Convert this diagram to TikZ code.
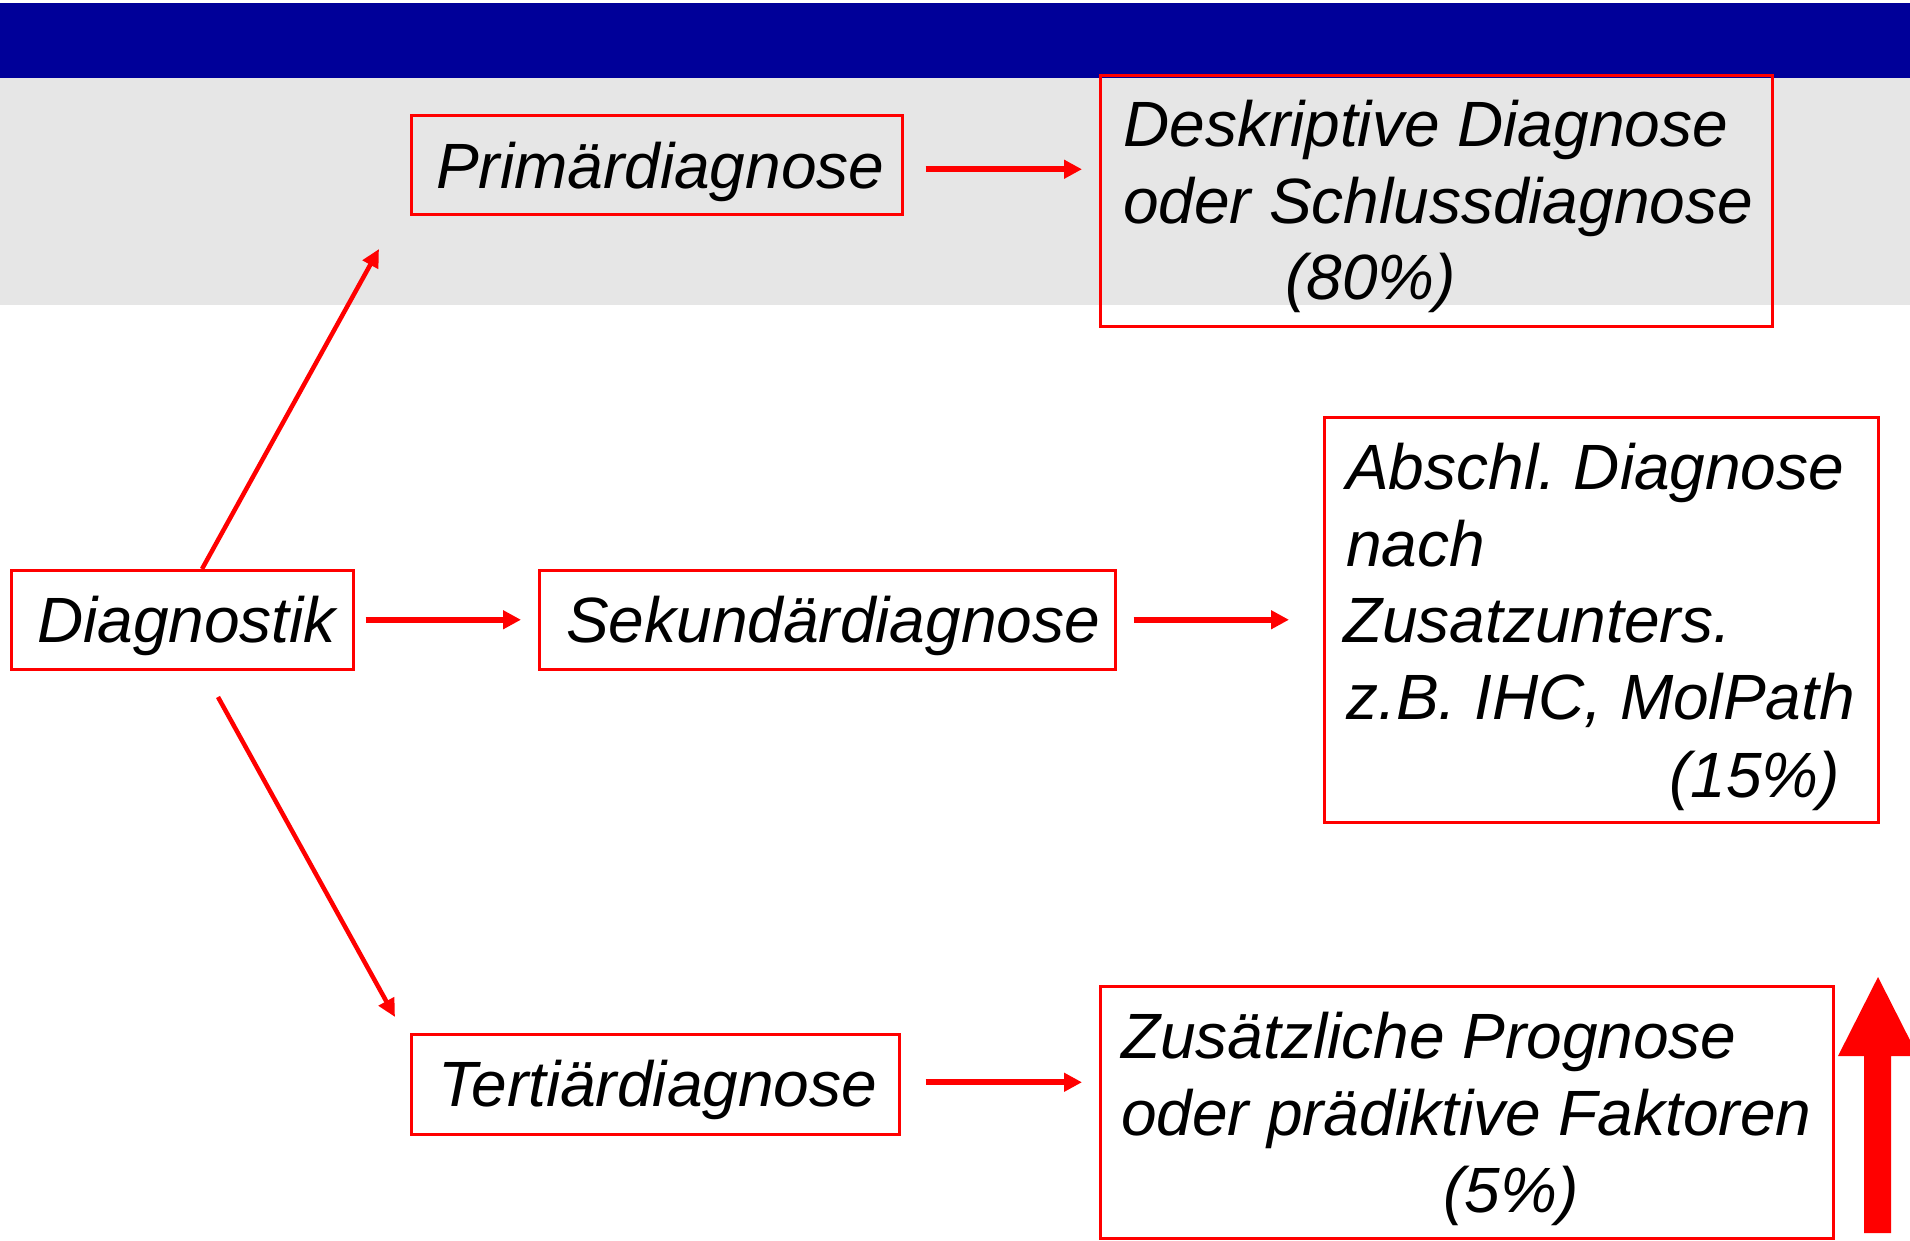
\documentclass[tikz,border=0pt]{standalone}
\usepackage{fontspec}
\setmainfont{Liberation Sans}
\usetikzlibrary{arrows.meta,calc}
\definecolor{barblue}{RGB}{0,0,153}
\definecolor{bggray}{RGB}{230,230,230}
\frenchspacing
\begin{document}
\begin{tikzpicture}[x=1pt,y=-1pt,
  box/.style={draw=red, line width=2.5pt, inner sep=0pt, anchor=north west},
  txt/.style={anchor=base west, inner sep=0pt, font=\fontsize{64}{77}\selectfont\itshape},
  harrow/.style={red, line width=6pt, -{Triangle[length=18pt,width=18pt]}},
  darrow/.style={red, line width=4.5pt, -{Triangle[length=18pt,width=17pt]}}]
\useasboundingbox (0,0) rectangle (1910,1240);
\fill[white] (0,0) rectangle (1910,1240);
\fill[barblue] (0,3) rectangle (1910,78);
\fill[bggray] (0,78) rectangle (1910,305);

% boxes
\node[box, minimum width=491pt, minimum height=99pt] (prim) at (410,114) {};
\node[box, minimum width=672pt, minimum height=251pt] (desk) at (1099,74) {};
\node[box, minimum width=342pt, minimum height=99pt] (diag) at (10,569) {};
\node[box, minimum width=576pt, minimum height=99pt] (sek) at (538,569) {};
\node[box, minimum width=554pt, minimum height=405pt] (absch) at (1323,416) {};
\node[box, minimum width=488pt, minimum height=100pt] (tert) at (410,1033) {};
\node[box, minimum width=733pt, minimum height=252pt] (zus) at (1099,985) {};

% texts
\node[txt] (primT) at (436,188) {Primärdiagnose};
\node[txt] (deskA) at (1123,146) {Deskriptive Diagnose};
\node[txt] (deskB) at (1123,223) {oder Schlussdiagnose};
\node[txt] (deskC) at (1285,299) {(80\%)};
\node[txt] (diagT) at (37,642) {Diagnostik};
\node[txt] (sekT) at (566,642) {Sekundärdiagnose};
\node[txt] (abA) at (1346,489) {Abschl. Diagnose};
\node[txt] (abB) at (1346,566) {nach};
\node[txt] (abC) at (1343,642) {Zusatzunters.};
\node[txt] (abD) at (1346,719) {z.B. IHC, MolPath};
\node[txt] (abE) at (1669,797) {(15\%)};
\node[txt] (tertT) at (438,1106) {Tertiärdiagnose};
\node[txt] (zusA) at (1121,1058) {Zusätzliche Prognose};
\node[txt] (zusB) at (1121,1135) {oder prädiktive Faktoren};
\node[txt] (zusC) at (1443,1212) {(5\%)};

% diagonal connectors
\coordinate (upTip) at (379,249);
\coordinate (downStart) at (218,697);
\coordinate (downTip) at (395,1017);
\draw[darrow] ([xshift=192pt]diag.north west) -- (upTip);
\draw[darrow] (downStart) -- (downTip);

% horizontal connectors
\draw[harrow, shorten <=22pt, shorten >=17pt] ([yshift=-4.5pt]prim.east) -- ([yshift=-4.5pt]prim.east -| desk.west);
\draw[harrow, shorten <=11pt, shorten >=17pt] (diag.east) -- (sek.west);
\draw[harrow, shorten <=17pt, shorten >=34pt] (sek.east) -- (absch.west);
\draw[harrow, shorten <=25pt, shorten >=17pt] ([yshift=2pt]tert.east) -- ([yshift=2pt]tert.east -| zus.west);

% big upward arrow
\fill[red] (1864,1233) -- (1864,1056) -- (1838,1056) -- (1878,977) -- (1918,1056) -- (1891,1056) -- (1891,1233) -- cycle;
\end{tikzpicture}
\end{document}
